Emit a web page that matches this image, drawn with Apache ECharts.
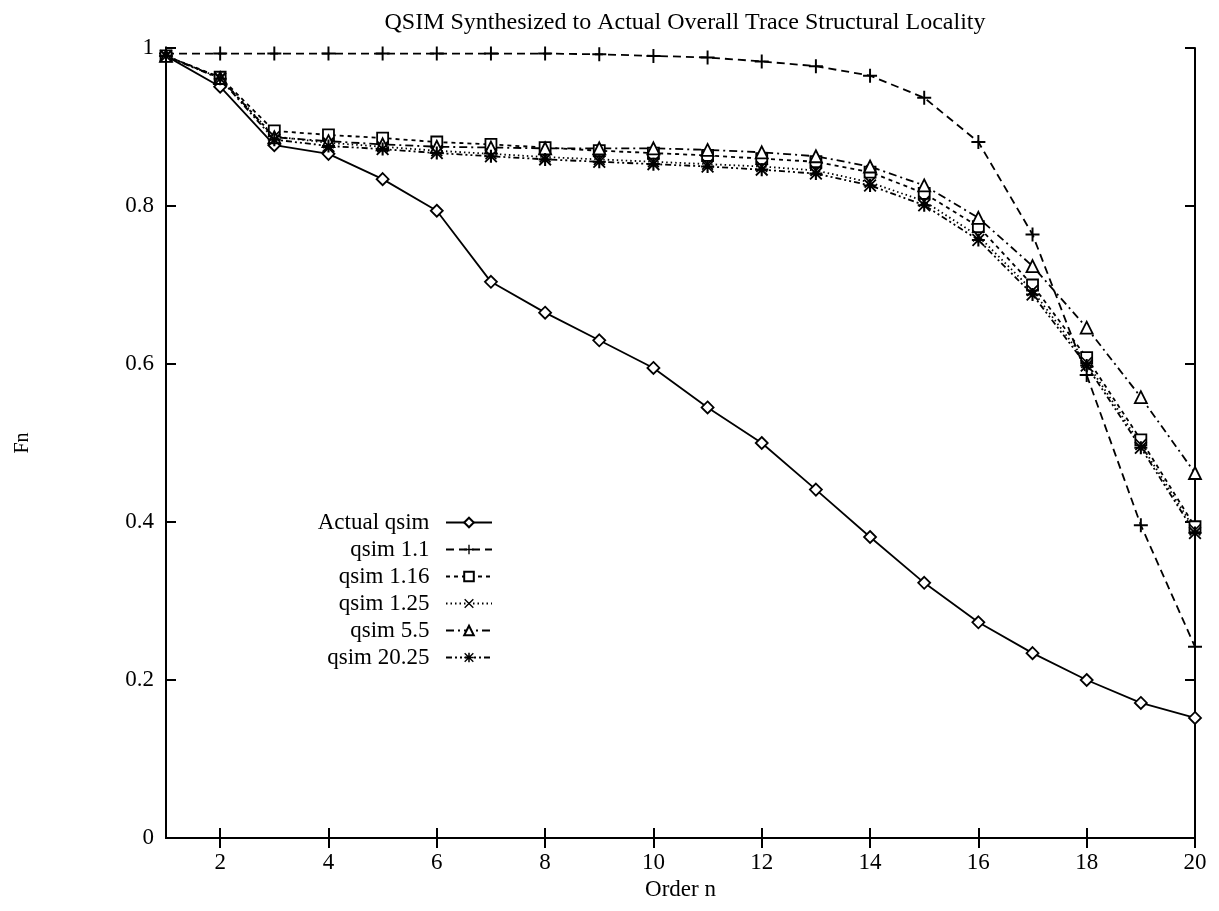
<!DOCTYPE html>
<html>
<head>
<meta charset="utf-8">
<script src="https://cdn.jsdelivr.net/npm/echarts@6/dist/echarts.min.js"></script>
<style>
  html, body { margin: 0; padding: 0; background: #fff; }
  #main { width: 1219px; height: 911px; }
</style>
</head>
<body>
<div id="main"></div>
<script>
// Order n on the x axis
const orders = [1, 2, 3, 4, 5, 6, 7, 8, 9, 10, 11, 12, 13, 14, 15, 16, 17, 18, 19, 20]
// Fn values
const actualQsim = [0.99, 0.951, 0.877, 0.866, 0.834, 0.794, 0.704, 0.665, 0.630, 0.595, 0.545, 0.500, 0.441, 0.381, 0.323, 0.273, 0.234, 0.200, 0.171, 0.152]
const qsim11 = [0.993, 0.993, 0.993, 0.993, 0.993, 0.993, 0.993, 0.993, 0.992, 0.990, 0.988, 0.983, 0.977, 0.965, 0.937, 0.881, 0.764, 0.586, 0.396, 0.242]
const qsim116 = [0.99, 0.963, 0.895, 0.890, 0.886, 0.881, 0.878, 0.874, 0.870, 0.867, 0.864, 0.860, 0.856, 0.843, 0.816, 0.774, 0.700, 0.608, 0.504, 0.394]
const qsim125 = [0.99, 0.962, 0.888, 0.880, 0.875, 0.870, 0.866, 0.862, 0.859, 0.856, 0.853, 0.850, 0.845, 0.830, 0.806, 0.762, 0.693, 0.602, 0.498, 0.390]
const qsim55 = [0.99, 0.962, 0.887, 0.882, 0.878, 0.875, 0.874, 0.873, 0.873, 0.873, 0.871, 0.868, 0.863, 0.850, 0.826, 0.785, 0.724, 0.646, 0.558, 0.462]
const qsim2025 = [0.99, 0.961, 0.884, 0.876, 0.872, 0.867, 0.863, 0.859, 0.856, 0.853, 0.850, 0.846, 0.841, 0.826, 0.801, 0.757, 0.688, 0.598, 0.494, 0.386]
// tick labels
const xTicks = [2, 4, 6, 8, 10, 12, 14, 16, 18, 20]

const FONT = '"Liberation Serif", "DejaVu Serif", serif'

// marker shapes
const plusPath = 'path://M4.3,0H5.7V10H4.3Z M0,4.3H10V5.7H0Z'
const crossPath = 'path://M0,1L1,0L10,9L9,10Z M9,0L10,1L1,10L0,9Z'
const starPath = 'path://M4.2,0H5.8V10H4.2Z M0,4.2H10V5.8H0Z M0,1L1,0L10,9L9,10Z M9,0L10,1L1,10L0,9Z'

function pairs(values) {
  return orders.map((n, i) => [n, values[i]])
}

function makeSeries(name, values, symbol, size, hollow, dash) {
  return {
    name: name,
    type: 'line',
    data: pairs(values),
    symbol: symbol,
    symbolSize: size,
    showSymbol: true,
    animation: false,
    itemStyle: hollow
      ? { color: '#fff', borderColor: '#000', borderWidth: 1.8 }
      : { color: '#000', borderColor: '#000', borderWidth: 0 },
    lineStyle: { color: '#000', width: 1.8, type: dash },
  }
}

let myChart = echarts.init(document.getElementById('main'))

let option = {
  backgroundColor: '#fff',
  animation: false,
  title: {
    text: 'QSIM Synthesized to Actual Overall Trace Structural Locality',
    left: 680,
    top: 6,
    textAlign: 'center',
    textStyle: { fontFamily: FONT, fontSize: 24, fontWeight: 'normal', color: '#000' },
  },
  grid: { left: 166, right: 24, top: 48, bottom: 73 },
  legend: {
    orient: 'vertical',
    right: 721,
    top: 506,
    align: 'right',
    itemWidth: 46,
    itemHeight: 12,
    itemGap: 4,
    formatter: name => name + '  ',
    textStyle: { fontFamily: FONT, fontSize: 23, lineHeight: 22, color: '#000' },
    data: ['Actual qsim', 'qsim 1.1', 'qsim 1.16', 'qsim 1.25', 'qsim 5.5', 'qsim 20.25'],
  },
  xAxis: [
    {
      type: 'value',
      min: 1,
      max: 20,
      name: 'Order n',
      nameLocation: 'middle',
      nameGap: 39,
      nameTextStyle: { fontFamily: FONT, fontSize: 23, color: '#000' },
      axisLine: { lineStyle: { color: '#000', width: 2 } },
      axisTick: { inside: true, length: 10, customValues: xTicks, lineStyle: { color: '#000', width: 2 } },
      axisLabel: { customValues: xTicks, margin: 13, fontFamily: FONT, fontSize: 23, color: '#000' },
      splitLine: { show: false },
    },
    {
      type: 'value',
      position: 'top',
      min: 1,
      max: 20,
      axisLine: { lineStyle: { color: '#000', width: 2 } },
      axisTick: { inside: true, length: 10, customValues: xTicks, lineStyle: { color: '#000', width: 2 } },
      axisLabel: { show: false },
      splitLine: { show: false },
    },
  ],
  yAxis: [
    {
      type: 'value',
      min: 0,
      max: 1,
      interval: 0.2,
      name: 'Fn',
      nameLocation: 'middle',
      nameGap: 133,
      nameTextStyle: { fontFamily: FONT, fontSize: 20, color: '#000' },
      axisLine: { show: true, lineStyle: { color: '#000', width: 2 } },
      axisTick: { show: true, inside: true, length: 10, lineStyle: { color: '#000', width: 2 } },
      axisLabel: {
        margin: 12,
        fontFamily: FONT,
        fontSize: 23,
        color: '#000',
        formatter: v => (v === 0 || v === 1 ? String(v) : v.toFixed(1)),
      },
      splitLine: { show: false },
    },
    {
      type: 'value',
      position: 'right',
      min: 0,
      max: 1,
      interval: 0.2,
      axisLine: { show: true, lineStyle: { color: '#000', width: 2 } },
      axisTick: { show: true, inside: true, length: 10, lineStyle: { color: '#000', width: 2 } },
      axisLabel: { show: false },
      splitLine: { show: false },
    },
  ],
  series: [
    makeSeries('Actual qsim', actualQsim, 'diamond', 12, true, 'solid'),
    makeSeries('qsim 1.1', qsim11, plusPath, 14, false, [8, 5]),
    makeSeries('qsim 1.16', qsim116, 'rect', 11, true, [4, 4]),
    makeSeries('qsim 1.25', qsim125, crossPath, 12, false, [1.5, 3]),
    makeSeries('qsim 5.5', qsim55, 'triangle', 12, true, [8, 4, 2, 4]),
    makeSeries('qsim 20.25', qsim2025, starPath, 13, false, [6, 3, 2, 3, 2, 3]),
  ],
}

myChart.setOption(option)
</script>
</body>
</html>
